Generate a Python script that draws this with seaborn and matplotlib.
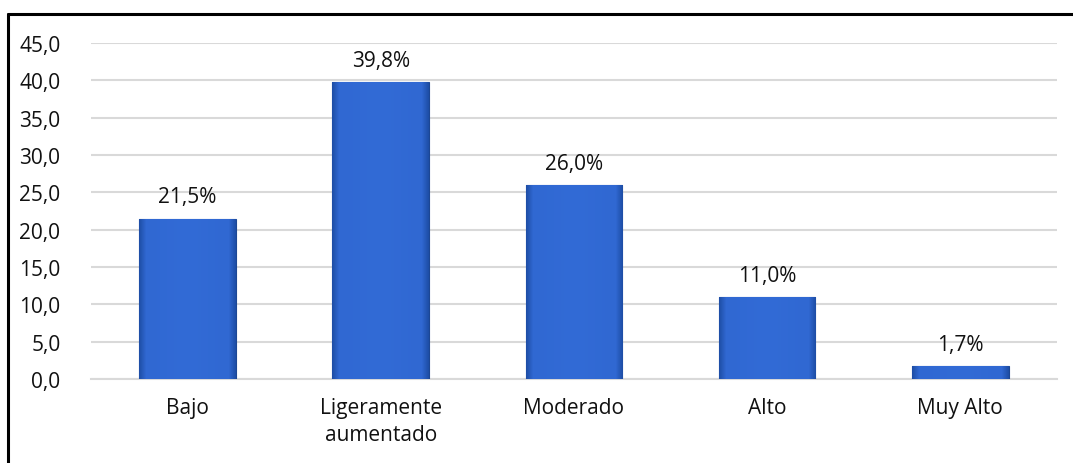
import numpy as np
import pandas as pd
import seaborn as sns
import matplotlib
matplotlib.use("Agg")
import matplotlib.pyplot as plt
from matplotlib.lines import Line2D
from matplotlib.colors import LinearSegmentedColormap

# data
categorias = ["Bajo", "Ligeramente\naumentado", "Moderado", "Alto", "Muy Alto"]
porcentajes = [21.5, 39.8, 26.0, 11.0, 1.7]
y_ticks = [0, 5, 10, 15, 20, 25, 30, 35, 40, 45]

df = pd.DataFrame({"nivel": categorias, "pct": porcentajes})

sns.set_theme(style="white")
plt.rcParams["font.family"] = ["Open Sans", "DejaVu Sans"]

fig = plt.figure(figsize=(10.73, 4.64), dpi=100)
ax = fig.add_axes([0.0848, 0.181, 0.9002, 0.724])

sns.barplot(data=df, x="nivel", y="pct", color="#2F63C8", width=0.5,
            edgecolor="#1C4794", linewidth=0.8, ax=ax, zorder=3)

# fake the bevelled Excel look: mostly flat fill, darker rims
cmap = LinearSegmentedColormap.from_list(
    "bevel", [(0.0, "#1E4EA6"), (0.07, "#3068D2"), (0.5, "#326BD6"),
              (0.93, "#3068D2"), (1.0, "#1E4EA6")])
grad = np.linspace(0, 1, 128).reshape(1, -1)
for bar in ax.patches:
    x0, y0 = bar.get_x(), bar.get_y()
    w, h = bar.get_width(), bar.get_height()
    im = ax.imshow(grad, cmap=cmap, aspect="auto", zorder=3.5,
                   extent=[x0, x0 + w, y0, y0 + h])
    im.set_clip_path(bar)

ax.set_xlim(-0.5, len(categorias) - 0.5)
ax.set_ylim(0, 45)
ax.set_yticks(y_ticks)
ax.set_yticklabels([f"{v:.1f}".replace(".", ",") for v in y_ticks])
ax.set_xlabel("")
ax.set_ylabel("")

ax.grid(axis="y", color="#D9D9D9", linewidth=1.5, zorder=0)
for s in ["top", "right", "left"]:
    ax.spines[s].set_visible(False)
ax.spines["bottom"].set_color("#D9D9D9")
ax.spines["bottom"].set_linewidth(1.5)
ax.tick_params(axis="y", length=0, pad=22, labelsize=15, labelcolor="#111111")
ax.tick_params(axis="x", length=0, pad=13, labelsize=15, labelcolor="#111111")
for lbl in ax.get_xticklabels():
    lbl.set_linespacing(1.35)

for bar, v in zip(ax.patches, porcentajes):
    ax.annotate(f"{v:.1f}%".replace(".", ","),
                (bar.get_x() + bar.get_width() / 2, bar.get_height()),
                xytext=(0, 8), textcoords="offset points",
                ha="center", va="bottom", fontsize=15, color="#111111")

# outer chart border (cut off at right and bottom like the source)
fig.add_artist(Line2D([8 / 1073, 8 / 1073], [0, 1 - 15 / 464],
                      color="black", linewidth=2.2))
fig.add_artist(Line2D([8 / 1073, 1], [1 - 15 / 464, 1 - 15 / 464],
                      color="black", linewidth=2.2))

fig.savefig("out.png", dpi=100, facecolor="white")
